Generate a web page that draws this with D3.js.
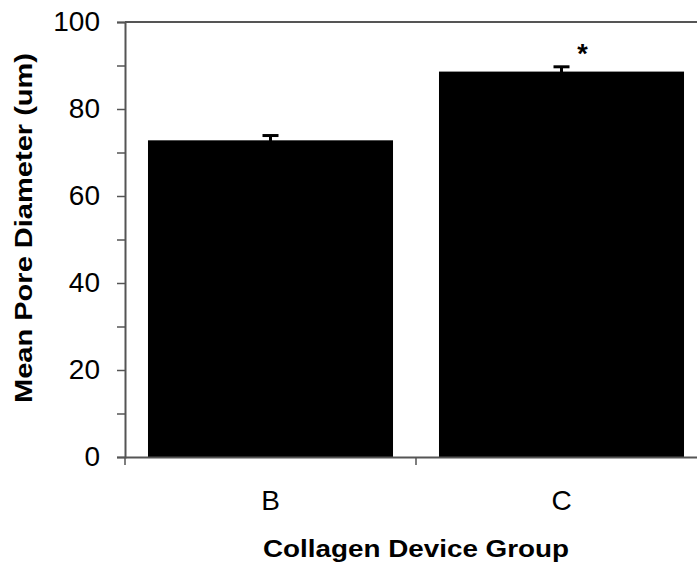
<!DOCTYPE html>
<html>
<head>
<meta charset="utf-8">
<script src="https://cdn.jsdelivr.net/npm/d3@7"></script>
<style>
  html, body { margin: 0; padding: 0; background: #fff; }
  svg { display: block; font-family: "Liberation Sans", Arial, sans-serif; }
</style>
</head>
<body>
<svg id="chart" width="697" height="563"></svg>
<script>
// Mean pore diameter per collagen device group
const groups = ["B", "C"];
const meanDiameter = [72.8, 88.6];
const stdError = [1.1, 1.1];
const significant = [false, true];
const yTicks = [0, 20, 40, 60, 80, 100];
const yMinorTicks = [10, 30, 50, 70, 90];

const svg = d3.select("#chart");
const margin = { left: 125, top: 22, right: 707, bottom: 457 };

const x = d3.scaleBand()
  .domain(groups)
  .range([margin.left, margin.right])
  .paddingInner(0.158)
  .paddingOuter(0.079);

const xEdges = d3.scaleBand().domain(groups).range([margin.left, margin.right]);

const y = d3.scaleLinear().domain([0, 100]).range([margin.bottom, margin.top]);

const axisColor = "#555";

// frame: top border
svg.append("line")
  .attr("x1", margin.left).attr("x2", margin.right)
  .attr("y1", y(100)).attr("y2", y(100))
  .attr("stroke", axisColor).attr("stroke-width", 2);

// bars
const data = groups.map((g, i) => ({ g, v: meanDiameter[i], e: stdError[i], s: significant[i] }));

svg.selectAll("rect.bar").data(data).join("rect")
  .attr("class", "bar")
  .attr("x", d => x(d.g))
  .attr("width", x.bandwidth())
  .attr("y", d => y(d.v))
  .attr("height", d => y(0) - y(d.v))
  .attr("fill", "#000");

// error bars
const cap = 16;
const eb = svg.selectAll("g.err").data(data).join("g").attr("class", "err");
eb.append("line")
  .attr("x1", d => x(d.g) + x.bandwidth() / 2)
  .attr("x2", d => x(d.g) + x.bandwidth() / 2)
  .attr("y1", d => y(d.v - d.e)).attr("y2", d => y(d.v + d.e))
  .attr("stroke", "#000").attr("stroke-width", 3);
eb.append("line")
  .attr("x1", d => x(d.g) + x.bandwidth() / 2 - cap / 2)
  .attr("x2", d => x(d.g) + x.bandwidth() / 2 + cap / 2)
  .attr("y1", d => y(d.v + d.e)).attr("y2", d => y(d.v + d.e))
  .attr("stroke", "#000").attr("stroke-width", 3);

// significance marker
svg.selectAll("text.sig").data(data.filter(d => d.s)).join("text")
  .attr("class", "sig")
  .attr("x", d => x(d.g) + x.bandwidth() / 2 + 21)
  .attr("y", d => y(d.v + d.e) - 4)
  .attr("text-anchor", "middle")
  .attr("font-size", 27)
  .attr("font-weight", "bold")
  .text("*");

// y axis
const yAxis = d3.axisLeft(y)
  .tickValues(yTicks.concat(yMinorTicks).sort((a, b) => a - b))
  .tickSize(8)
  .tickPadding(17)
  .tickFormat(d => yTicks.includes(d) ? d : "");
const gy = svg.append("g").attr("transform", `translate(${margin.left},0)`).call(yAxis);
gy.select(".domain").attr("stroke", axisColor).attr("stroke-width", 2);
gy.selectAll(".tick line").attr("stroke", axisColor).attr("stroke-width", 1.5);
gy.selectAll(".tick text")
  .attr("font-size", 28)
  .attr("font-family", "Liberation Sans, Arial, sans-serif")
  .attr("fill", "#000");

// x axis
const xAxis = d3.axisBottom(x).tickSize(0).tickPadding(33);
const gx = svg.append("g").attr("transform", `translate(0,${margin.bottom})`).call(xAxis);
gx.select(".domain").attr("stroke", axisColor).attr("stroke-width", 2);
gx.selectAll(".tick text")
  .attr("font-size", 28)
  .attr("font-family", "Liberation Sans, Arial, sans-serif")
  .attr("fill", "#000");

// x tick marks at category boundaries
const boundaries = groups.map(g => xEdges(g)).concat([margin.right]);
svg.selectAll("line.xtick").data(boundaries).join("line")
  .attr("class", "xtick")
  .attr("x1", d => d).attr("x2", d => d)
  .attr("y1", margin.bottom).attr("y2", margin.bottom + 8)
  .attr("stroke", axisColor).attr("stroke-width", 1.5);

// axis titles
svg.append("text")
  .attr("x", (margin.left + margin.right) / 2)
  .attr("y", 557)
  .attr("text-anchor", "middle")
  .attr("font-size", 24)
  .attr("font-weight", "bold")
  .attr("textLength", 306)
  .attr("lengthAdjust", "spacingAndGlyphs")
  .text("Collagen Device Group");

svg.append("text")
  .attr("transform", "translate(32,228) rotate(-90)")
  .attr("text-anchor", "middle")
  .attr("font-size", 24)
  .attr("font-weight", "bold")
  .attr("textLength", 350)
  .attr("lengthAdjust", "spacingAndGlyphs")
  .text("Mean Pore Diameter (um)");
</script>
</body>
</html>
